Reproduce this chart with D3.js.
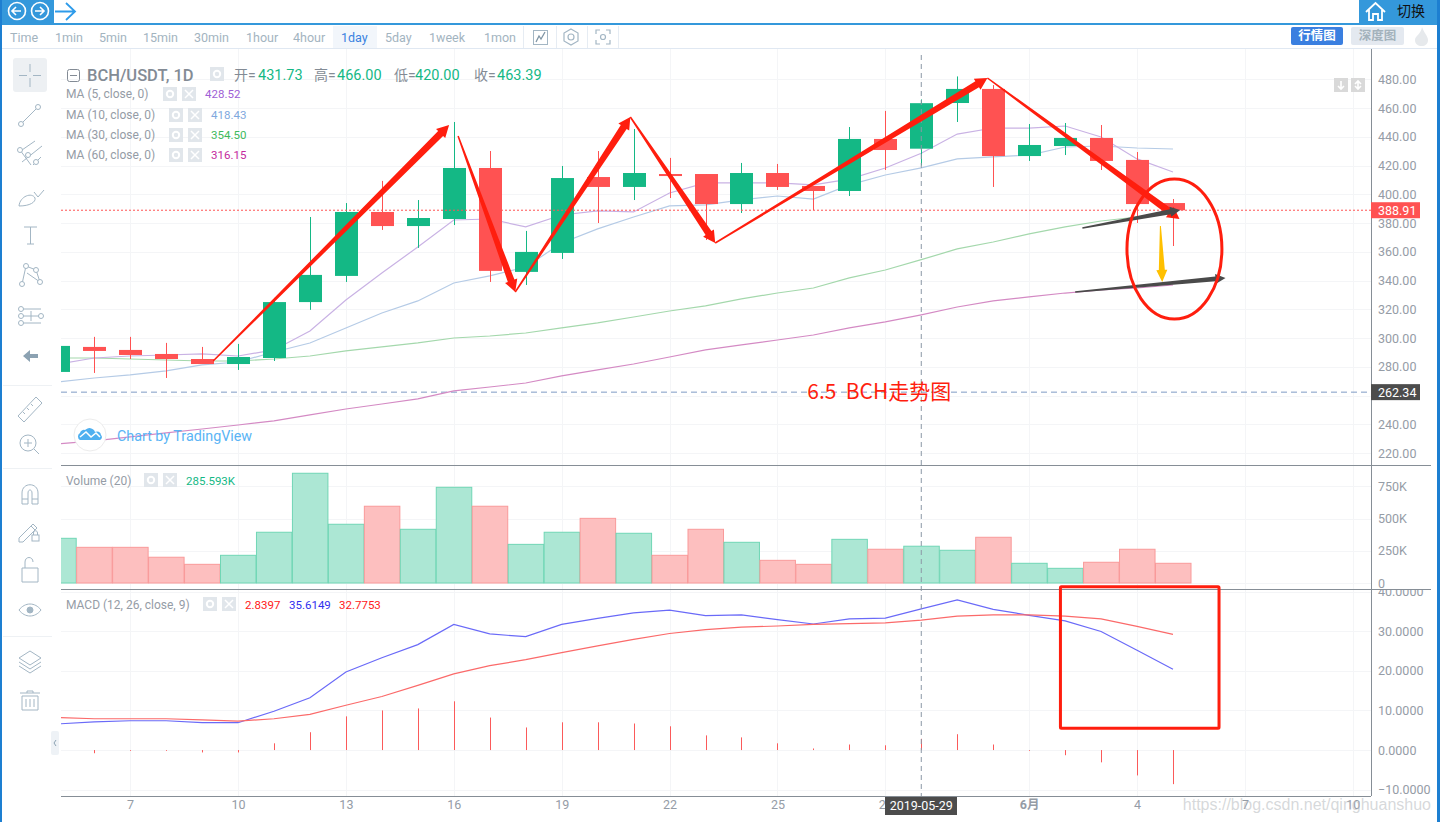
<!DOCTYPE html>
<html>
<head>
<meta charset="utf-8">
<title>BCH/USDT 1D</title>
<script src="https://cdnjs.cloudflare.com/ajax/libs/d3/7.8.5/d3.min.js"></script>
<style>
  html, body { margin: 0; padding: 0; background: #fff; overflow: hidden; }
  svg { display: block; font-family: Roboto, "Noto Sans CJK SC", sans-serif; }
</style>
</head>
<body>
<div id="chart"></div>
<script>
// daily data, 5 May - 5 Jun 2019
const days = ["05-05","05-06","05-07","05-08","05-09","05-10","05-11","05-12","05-13","05-14","05-15","05-16","05-17","05-18","05-19","05-20","05-21","05-22","05-23","05-24","05-25","05-26","05-27","05-28","05-29","05-30","05-31","06-01","06-02","06-03","06-04","06-05"];
const open  = [276.4,293.8,291.7,288.9,285.4,281.9,286.1,325.0,343.2,387.7,377.9,382.8,418.3,346.0,359.2,412.0,405.1,414.1,414.1,393.2,414.8,405.8,402.3,438.5,431.73,463.5,473.3,426.6,433.6,439.2,423.9,393.9];
const high  = [300.0,300.8,300.8,296.6,293.8,295.9,327.9,384.2,393.9,409.3,396.0,450.3,430.1,374.5,419.7,430.1,445.4,425.3,414.1,421.8,421.1,405.8,446.8,458.0,466.0,482.0,476.0,448.9,449.6,448.2,429.4,396.7];
const low   = [270.0,275.7,285.4,272.2,281.9,277.8,284.0,319.6,339.0,375.2,362.7,378.6,339.0,336.9,355.0,380.0,396.0,397.4,368.2,387.0,403.0,389.0,398.8,416.9,420.0,450.3,405.1,423.2,427.3,416.9,380.0,364.0];
const close = [294.5,291.0,288.2,285.4,281.9,286.8,325.0,343.9,387.7,377.9,383.5,418.3,346.7,359.9,411.3,405.1,414.8,412.7,393.2,414.8,405.1,402.3,438.5,430.8,463.39,473.3,426.6,434.3,439.2,423.2,393.2,388.91];

const ma5  = [281.9,286.1,287.5,288.2,288.9,287.5,291.7,304.9,326.5,345.3,363.3,382.1,382.8,377.3,385.6,388.4,387.7,400.9,407.9,407.9,407.9,406.5,410.6,418.3,428.52,441.9,446.1,446.1,447.5,439.9,424.6,415.5];
const ma10 = [269.4,272.2,274.3,277.1,281.3,283.3,290.3,296.5,307.0,317.4,325.8,338.3,343.2,349.4,366.1,375.9,384.2,391.9,392.6,396.1,398.8,396.7,406.5,413.4,418.43,424.6,426.0,427.3,432.9,433.6,432.2,431.5];
const ma30 = [286.1,286.1,285.4,284.7,284.0,284.0,285.4,287.5,291.0,293.8,296.6,300.0,301.4,303.5,307.0,310.5,314.6,318.8,322.3,327.2,331.3,334.8,341.8,347.3,354.5,362.0,366.8,372.4,377.3,381.4,384.2,387.7];
const ma60 = [226.3,228.4,231.2,234.0,236.7,239.5,242.3,246.5,250.6,254.1,257.6,263.2,265.9,268.7,273.6,277.8,281.9,286.8,291.7,295.2,298.6,302.1,307.0,311.2,316.15,321.6,325.8,328.6,331.3,333.4,334.8,336.9];

const volume = [347,277,277,200,145,215,394,852,456,596,417,743,596,300,394,502,386,215,417,316,176,145,339,262,285.593,254,355,153,114,161,262,153];

const macd   = [6.6,7.1,7.4,7.4,6.9,6.9,9.8,13.2,19.7,23.3,26.6,31.7,29.3,28.6,31.7,33.2,34.6,35.3,33.9,34.1,32.9,31.8,33.1,33.3,35.6149,37.9,35.5,34.0,32.6,29.9,25.2,20.4];
const signal = [8.2,7.9,7.9,7.9,7.6,7.3,7.9,9.0,11.3,13.5,16.3,19.2,21.3,22.8,24.6,26.3,27.9,29.4,30.4,31.0,31.3,31.7,31.9,32.1,32.7753,33.8,34.1,34.1,33.8,33.1,31.2,29.2];
const hist   = [0,-0.8,-0.2,-0.2,-0.6,-0.6,1.7,4.5,8.5,10,10.5,12.3,8.2,5.7,7,7,6.7,6,3.7,3.2,1.7,0.4,1.4,1.2,2.8397,4,1.4,-0.2,-1.3,-3.1,-6.4,-8.6];

const priceTicks = [480,460,440,420,400,380,360,340,320,300,280,260,240,220];
const volTicks = [750,500,250,0];
const macdTicks = [40,30,20,10,0,-10];
const timeTickIdx = [2,5,8,11,14,17,20,23,27,30,33,36];
const timeTickLabels = ["7","10","13","16","19","22","25","28","6月","4","7","10"];

const lastPrice = 388.91;
const basePrice = 262.34;
const crossIdx = 24;

const tabs = ["Time","1min","5min","15min","30min","1hour","4hour","1day","5day","1week","1mon"];
const tabX = [10,55,99,143,194,246,293,341,385,429,484];

// hand drawn annotations: [day index, price]
const redArrows = [
  [[4.31,284.0],[10.87,448.2]],
  [[11.12,440.6],[12.71,332.0]],
  [[12.71,332.0],[15.91,453.8]],
  [[15.91,453.8],[18.27,366.1]],
  [[18.27,366.1],[25.84,480.9]],
  [[25.84,480.9],[31.18,382.8]]
];
const greyArrows = [
  [[28.48,376.6],[31.2,389.1]],
  [[28.28,332.0],[32.46,341.8]]
];
const yellowArrow = [[30.65,378],[30.7,339]];

const GREEN = "#14b885", RED = "#ff5252", LABEL = "#959ca6", ICON = "#a3b6c4", BLUE = "#3498db", ANNO = "#ff1e0e";

const W = 1440, H = 822;
const left = 61, axisX = 1371, paneRight = 1431;

const svg = d3.select("#chart").append("svg").attr("width", W).attr("height", H);
const defs = svg.append("defs");
function clip(id, x, y, w, h) {
  defs.append("clipPath").attr("id", id).append("rect").attr("x", x).attr("y", y).attr("width", w).attr("height", h);
}
clip("clipMain", left, 49, axisX - left, 416);
clip("clipVol", left, 466, axisX - left, 123);
clip("clipMacd", left, 590, axisX - left, 206);
clip("clipMacdAxis", axisX, 590, 70, 206);

const x = d3.scaleLinear().domain([0, 31]).range([58.2, 1173]);
const yPrice = d3.scaleLinear().domain([220, 480]).range([453, 79.3]);
const yVol = d3.scaleLinear().domain([0, 750]).range([583, 486.4]);
const yMacd = d3.scaleLinear().domain([-10, 40]).range([789.7, 591.5]);

const idx = d3.range(days.length);
const isUp = i => close[i] >= open[i];

// ---- grid
const grid = svg.append("g").attr("stroke", "#f4f5f7").attr("stroke-width", 1).attr("shape-rendering", "crispEdges");
grid.selectAll(".gx").data(timeTickIdx).enter().append("line")
  .attr("x1", d => Math.round(x(d)) + .5).attr("x2", d => Math.round(x(d)) + .5).attr("y1", 49).attr("y2", 796);
function hGrid(ticks, scale) {
  grid.append("g").selectAll("line").data(ticks).enter().append("line")
    .attr("x1", left).attr("x2", axisX)
    .attr("y1", d => Math.round(scale(d)) + .5).attr("y2", d => Math.round(scale(d)) + .5);
}
hGrid(priceTicks, yPrice);
hGrid(volTicks, yVol);
hGrid(macdTicks, yMacd);

// ---- main pane
const main = svg.append("g").attr("clip-path", "url(#clipMain)");

main.append("line").attr("x1", left).attr("x2", axisX).attr("y1", yPrice(basePrice)).attr("y2", yPrice(basePrice))
  .attr("stroke", "#7f9ac4").attr("stroke-dasharray", "6 4");

const lineOf = (scale) => d3.line().x((d, i) => x(i)).y(d => scale(d));
[[ma60, "#d48ac4"], [ma30, "#a4d8ac"], [ma10, "#b5cbe6"], [ma5, "#c9b2e4"]].forEach(([vals, col]) => {
  main.append("path").attr("d", lineOf(yPrice)(vals)).attr("fill", "none").attr("stroke", col).attr("stroke-width", 1.2);
});

main.selectAll(".wick").data(idx).enter().append("line")
  .attr("x1", i => Math.round(x(i)) + .5).attr("x2", i => Math.round(x(i)) + .5)
  .attr("y1", i => yPrice(high[i])).attr("y2", i => yPrice(low[i]))
  .attr("stroke", i => isUp(i) ? GREEN : RED);
main.selectAll(".body").data(idx).enter().append("rect")
  .attr("x", i => Math.round(x(i)) - 11).attr("width", 23)
  .attr("y", i => yPrice(Math.max(open[i], close[i])))
  .attr("height", i => Math.max(2, Math.abs(yPrice(open[i]) - yPrice(close[i]))))
  .attr("fill", i => isUp(i) ? GREEN : RED);

main.append("line").attr("x1", left).attr("x2", axisX).attr("y1", yPrice(lastPrice)).attr("y2", yPrice(lastPrice))
  .attr("stroke", RED).attr("stroke-dasharray", "2 2");

// ---- volume pane
const vol = svg.append("g").attr("clip-path", "url(#clipVol)");
vol.selectAll("rect").data(idx).enter().append("rect")
  .attr("x", i => x(i) - 17.5).attr("width", 35.5)
  .attr("y", i => yVol(volume[i])).attr("height", i => yVol(0) - yVol(volume[i]))
  .attr("fill", i => isUp(i) ? "#ace7d4" : "#fdbfbf")
  .attr("stroke", i => isUp(i) ? "#70d6b5" : "#f99a9a");

// ---- macd pane
const mac = svg.append("g").attr("clip-path", "url(#clipMacd)");
mac.selectAll("line").data(idx.filter(i => hist[i] !== 0)).enter().append("line")
  .attr("x1", i => Math.round(x(i)) + .5).attr("x2", i => Math.round(x(i)) + .5)
  .attr("y1", yMacd(0)).attr("y2", i => yMacd(hist[i]))
  .attr("stroke", "#fb5a5a");
mac.append("path").attr("d", lineOf(yMacd)(macd)).attr("fill", "none").attr("stroke", "#6a6af8").attr("stroke-width", 1.2);
mac.append("path").attr("d", lineOf(yMacd)(signal)).attr("fill", "none").attr("stroke", "#fb6a6a").attr("stroke-width", 1.2);

// ---- crosshair
svg.append("line").attr("x1", x(crossIdx)).attr("x2", x(crossIdx)).attr("y1", 55).attr("y2", 796)
  .attr("stroke", "#8a98a6").attr("stroke-dasharray", "5 4");

// ---- axes
function styleAxis(g) {
  g.select(".domain").remove();
  g.selectAll(".tick line").remove();
  g.selectAll("text").attr("fill", LABEL).attr("font-size", 12.5).attr("font-family", "Roboto, 'Noto Sans CJK SC', sans-serif");
}
// 260.00 sits under the 262.34 badge, so only its gridline shows
svg.append("g").attr("transform", `translate(${axisX},0)`)
  .call(d3.axisRight(yPrice).tickValues(priceTicks.filter(d => d !== 260)).tickFormat(d3.format(".2f")).tickPadding(7).tickSize(0)).call(styleAxis);
svg.append("g").attr("transform", `translate(${axisX},0)`)
  .call(d3.axisRight(yVol).tickValues(volTicks).tickFormat(d => d === 0 ? "0" : d + "K").tickPadding(7).tickSize(0)).call(styleAxis);
svg.append("g").attr("clip-path", "url(#clipMacdAxis)").append("g").attr("transform", `translate(${axisX},0)`)
  .call(d3.axisRight(yMacd).tickValues(macdTicks).tickFormat(d3.format(".4f")).tickPadding(7).tickSize(0)).call(styleAxis);
const xAxis = svg.append("g").attr("transform", "translate(0,796)")
  .call(d3.axisBottom(x).tickValues(timeTickIdx).tickFormat((d, i) => timeTickLabels[i]).tickPadding(4).tickSize(0)).call(styleAxis);
xAxis.selectAll("text").filter(d => d === 27).attr("font-weight", 700);

// pane borders
const borders = svg.append("g").attr("stroke", "#868e96").attr("stroke-width", 1).attr("shape-rendering", "crispEdges");
[465.5, 589.5].forEach(y => borders.append("line").attr("x1", left).attr("x2", paneRight).attr("y1", y).attr("y2", y));
borders.append("line").attr("x1", left).attr("x2", axisX).attr("y1", 796.5).attr("y2", 796.5);
borders.append("line").attr("x1", axisX + .5).attr("x2", axisX + .5).attr("y1", 49).attr("y2", 796);

function axisBadge(value, fill) {
  const y = yPrice(value);
  svg.append("rect").attr("x", axisX).attr("y", y - 8).attr("width", 49).attr("height", 16).attr("fill", fill);
  svg.append("text").attr("x", axisX + 7).attr("y", y).attr("dy", "0.35em").attr("fill", "#fff")
    .attr("font-size", 12.5).text(d3.format(".2f")(value));
}
axisBadge(lastPrice, RED);
axisBadge(basePrice, "#4c4c4c");

svg.append("rect").attr("x", 885).attr("y", 797).attr("width", 72).attr("height", 18).attr("fill", "#4c4c4c");
svg.append("text").attr("x", x(crossIdx)).attr("y", 806).attr("dy", "0.35em").attr("text-anchor", "middle")
  .attr("fill", "#fff").attr("font-size", 12.5).text("2019-05-29");

// ---- legends
function tinyBox(cx, cy, kind) {
  const g = svg.append("g").attr("transform", `translate(${cx},${cy})`);
  g.append("rect").attr("x", -7).attr("y", -7).attr("width", 14).attr("height", 14).attr("fill", "#e1e6eb");
  if (kind === "x") {
    g.append("path").attr("d", "M-4,-4L4,4M4,-4L-4,4").attr("stroke", "#fff").attr("stroke-width", 1.5);
  } else {
    g.append("circle").attr("r", 3.2).attr("fill", "none").attr("stroke", "#fff").attr("stroke-width", 2);
  }
}
function label(px, py, txt, col, size, weight) {
  return svg.append("text").attr("x", px).attr("y", py).attr("dy", "0.35em")
    .attr("fill", col).attr("font-size", size || 11.5).attr("font-weight", weight || 400).text(txt);
}

svg.append("rect").attr("x", 67.5).attr("y", 69.5).attr("width", 12).attr("height", 12).attr("rx", 2).attr("fill", "none").attr("stroke", "#838b95");
svg.append("line").attr("x1", 70).attr("x2", 77).attr("y1", 75.5).attr("y2", 75.5).attr("stroke", "#838b95");
label(87, 75, "BCH/USDT, 1D", "#838b95", 16.5, 500);
tinyBox(217, 74, "gear");
[["开=",234,"431.73",258],["高=",314,"466.00",337],["低=",394,"420.00",415],["收=",474,"463.39",497]].forEach(d => {
  label(d[1], 75, d[0], "#838b95", 14);
  label(d[3], 75, d[2], "#14b885", 14.5);
});

const maRows = [
  ["MA (5, close, 0)", 163, 205, "428.52", "#a05fd6", 94],
  ["MA (10, close, 0)", 169, 211, "418.43", "#7fa9de", 115],
  ["MA (30, close, 0)", 169, 211, "354.50", "#3fba5e", 135],
  ["MA (60, close, 0)", 169, 211, "316.15", "#c42a9e", 155]
];
maRows.forEach(r => {
  label(66, r[5], r[0], "#959ca6", 12);
  tinyBox(r[1] + 7, r[5], "gear");
  tinyBox(r[1] + 26, r[5], "x");
  label(r[2], r[5], r[3], r[4]);
});

label(66, 481, "Volume (20)", "#959ca6", 12);
tinyBox(151, 480, "gear");
tinyBox(170, 480, "x");
label(186, 481, "285.593K", "#14b885");

label(66, 605, "MACD (12, 26, close, 9)", "#959ca6", 12);
tinyBox(210, 604, "gear");
tinyBox(229, 604, "x");
label(245, 605, "2.8397", "#ff2020");
label(289, 605, "35.6149", "#3030ee");
label(339, 605, "32.7753", "#ff2020");

// scale buttons
[[1334, "M7,3V11M4,8L7,11L10,8"], [1351, "M7,3V11M4,6L7,3L10,6M4,8L7,11L10,8"]].forEach(d => {
  const g = svg.append("g").attr("transform", `translate(${d[0]},78)`);
  g.append("rect").attr("width", 14).attr("height", 14).attr("fill", "#d9d9d9");
  g.append("path").attr("d", d[1]).attr("fill", "none").attr("stroke", "#fff").attr("stroke-width", 1.6);
});

// tradingview badge
svg.append("circle").attr("cx", 90).attr("cy", 435).attr("r", 16).attr("fill", "#fff").attr("stroke", "#ececec");
svg.append("path").attr("d", "M80,440a4,4 0 0 1 0,-7a4,4 0 0 1 5,-3a6,6 0 0 1 10,2a4,4 0 0 1 6,3a3,3 0 0 1 -1,5Z").attr("fill", "#4fb0f0");
svg.append("path").attr("d", "M80,437L86,432L91,437L96,433L100,437").attr("fill", "none").attr("stroke", "#fff").attr("stroke-width", 1.5);
label(117, 436, "Chart by TradingView", "#5ab4f5", 14.3);

// ---- annotations
function wedge(p0, p1, w0, w1, headLen, headW) {
  const a = [x(p0[0]), yPrice(p0[1])], b = [x(p1[0]), yPrice(p1[1])];
  const len = Math.hypot(b[0] - a[0], b[1] - a[1]);
  const u = [(b[0] - a[0]) / len, (b[1] - a[1]) / len], n = [-u[1], u[0]];
  const base = [b[0] - u[0] * headLen, b[1] - u[1] * headLen];
  const off = (p, w) => [p[0] + n[0] * w / 2, p[1] + n[1] * w / 2];
  return d3.line()([off(a, w0), off(base, w1), off(base, headW), b, off(base, -headW), off(base, -w1), off(a, -w0)]) + "Z";
}
const anno = svg.append("g");
anno.selectAll(".red").data(redArrows).enter().append("path")
  .attr("d", d => wedge(d[0], d[1], 1.5, 7, 12, 13)).attr("fill", ANNO);
anno.selectAll(".grey").data(greyArrows).enter().append("path")
  .attr("d", d => wedge(d[0], d[1], 1.5, 5, 10, 10)).attr("fill", "#4a4a4a");
anno.append("path").attr("d", wedge(yellowArrow[0], yellowArrow[1], 1, 6, 12, 11)).attr("fill", "#ffc000");

anno.append("ellipse").attr("cx", x(31.04)).attr("cy", yPrice(361.9))
  .attr("rx", x(1.32) - x(0)).attr("ry", yPrice(313.2) - yPrice(361.9))
  .attr("fill", "none").attr("stroke", ANNO).attr("stroke-width", 3);
anno.append("rect").attr("x", x(27.87)).attr("y", yMacd(41.2))
  .attr("width", x(32.28) - x(27.87)).attr("height", yMacd(5.5) - yMacd(41.2))
  .attr("rx", 1).attr("fill", "none").attr("stroke", ANNO).attr("stroke-width", 3);
anno.append("text").attr("x", x(20.83)).attr("y", yPrice(262.5)).attr("dy", "0.36em")
  .attr("fill", ANNO).attr("font-size", 21).attr("font-family", "'Noto Sans CJK SC', sans-serif")
  .style("white-space", "pre").text("6.5  BCH走势图");

// watermark
svg.append("text").attr("x", 1431).attr("y", 810).attr("text-anchor", "end")
  .attr("fill", "#b4b8bc").attr("fill-opacity", .55).attr("font-size", 16)
  .attr("font-family", "'Liberation Sans', sans-serif").text("https://blog.csdn.net/qinghuanshuo");

// ---- top bar
svg.append("rect").attr("width", 54).attr("height", 24).attr("fill", BLUE);
svg.append("rect").attr("x", 1359).attr("width", 81).attr("height", 24).attr("fill", BLUE);
svg.append("rect").attr("y", 23).attr("width", W).attr("height", 2).attr("fill", BLUE);
svg.append("rect").attr("width", 2).attr("height", H).attr("fill", "#1d7fd1");
svg.append("rect").attr("x", 1437).attr("width", 3).attr("height", H).attr("fill", "#1d7fd1");
[[17, "M21,11H12M16,7L12,11L16,15"], [40, "M35,11H44M40,7L44,11L40,15"]].forEach(d => {
  svg.append("circle").attr("cx", d[0]).attr("cy", 11).attr("r", 8.5).attr("fill", "none").attr("stroke", "#fff").attr("stroke-width", 1.6);
  svg.append("path").attr("d", d[1]).attr("fill", "none").attr("stroke", "#fff").attr("stroke-width", 1.6);
});
svg.append("path").attr("d", "M55,11.5H75M66,3L75,11.5L66,20").attr("fill", "none").attr("stroke", "#2e9bea").attr("stroke-width", 1.8);
svg.append("path").attr("d", "M1366,12L1375.5,3L1385,12M1369,10V20H1373V14H1378V20H1382V10")
  .attr("fill", "none").attr("stroke", "#fff").attr("stroke-width", 1.8);
svg.append("text").attr("x", 1397).attr("y", 11).attr("dy", "0.35em").attr("fill", "#111").attr("font-size", 14)
  .attr("font-family", "'Noto Sans CJK SC', sans-serif").text("切换");

// ---- timeframe toolbar
svg.append("rect").attr("x", 333).attr("y", 26).attr("width", 44).attr("height", 22).attr("fill", "#f2f6fb");
svg.append("line").attr("x1", 2).attr("x2", 1437).attr("y1", 48.5).attr("y2", 48.5).attr("stroke", "#e0e8f2");
svg.selectAll(".tab").data(tabs).enter().append("text")
  .attr("x", (d, i) => tabX[i]).attr("y", 37.5).attr("dy", "0.35em").attr("font-size", 12.5)
  .attr("fill", d => d === "1day" ? "#3b82e0" : "#a3b4bf").text(d => d);
[523.5, 556.5, 587.5, 618.5].forEach(px => svg.append("line").attr("x1", px).attr("x2", px).attr("y1", 26).attr("y2", 48).attr("stroke", "#e6ecf3"));
svg.append("rect").attr("x", 533.5).attr("y", 30.5).attr("width", 14).attr("height", 14).attr("fill", "none").attr("stroke", ICON);
svg.append("path").attr("d", "M536,42L539,36L541,39L545,32").attr("fill", "none").attr("stroke", "#7f95a5").attr("stroke-width", 1.3);
svg.append("path").attr("d", "M571,29L578,33V41L571,45L564,41V33Z").attr("fill", "none").attr("stroke", ICON).attr("stroke-width", 1.2);
svg.append("circle").attr("cx", 571).attr("cy", 37).attr("r", 3).attr("fill", "none").attr("stroke", ICON).attr("stroke-width", 1.2);
svg.append("path").attr("d", "M596,34V30H600M606,30H610V34M610,40V44H606M600,44H596V40").attr("fill", "none").attr("stroke", ICON).attr("stroke-width", 1.2);
svg.append("circle").attr("cx", 603).attr("cy", 37).attr("r", 2.5).attr("fill", "none").attr("stroke", ICON).attr("stroke-width", 1.2);

svg.append("rect").attr("x", 1291).attr("y", 27).attr("width", 52).attr("height", 18).attr("rx", 2).attr("fill", "#3a7fe0");
svg.append("rect").attr("x", 1351).attr("y", 27).attr("width", 53).attr("height", 18).attr("rx", 2).attr("fill", "#e4e9f0");
[["行情图", 1317, "#fff"], ["深度图", 1377.5, "#a3b2bc"]].forEach(d => {
  svg.append("text").attr("x", d[1]).attr("y", 36).attr("dy", "0.35em").attr("text-anchor", "middle")
    .attr("fill", d[2]).attr("font-size", 12.5).attr("font-weight", 700)
    .attr("font-family", "'Noto Sans CJK SC', sans-serif").text(d[0]);
});
svg.append("path").attr("d", "M1422,27C1424,33 1428,36 1428,40C1428,44 1425,46 1422,46C1418,46 1415,44 1415,40C1415,36 1421,34 1422,27Z").attr("fill", "#e6e9ec");

// ---- left drawing toolbar
const tools = svg.append("g").attr("fill", "none").attr("stroke", ICON).attr("stroke-width", 1);
svg.insert("rect", "g").attr("x", 13).attr("y", 58).attr("width", 34).attr("height", 34).attr("rx", 3).attr("fill", "#edf0f3");
tools.append("path").attr("d", "M19,75.5H27M33,75.5H41M30,64V72M30,78V87");
const toolPaths = [
  "M21,124L38,107",                                  // trend line
  "M22,150L35,141M22,162L42,146M33,165L41,157M20,150L31,165",
  "M19,206C20,196 32,192 35,198C36,202 30,206 19,206ZM34,192L38,197L44,190",
  "M24,227H37M30.5,227V244M27,244H34",
  "M22,284L26,266L36,270L40,282L27,273",
  "M21,309H41M21,316H41M21,323H41M31,311V321",
  "M18,416L36,397L42,403L24,422ZM23,412L25,414M27,408L29,410M31,404L33,406",
  "M22,504V493C22,482 38,482 38,493V504H32V493C32,489 28,489 28,493V504ZM22,499H28M32,499H38",
  "M19,538L33,524L37,528L23,542L19,542ZM31,526L35,530",
  "M22,568H38V582H22ZM25,568V562C25,556 33,556 33,562",
  "M19,610C25,602 35,602 41,610C35,618 25,618 19,610Z",
  "M30,651L41,658L30,665L19,658ZM19,662L30,669L41,662M19,666L30,673L41,666",
  "M22,696H38V710H22ZM20,693H40M26,699V707M30,699V707M34,699V707M27,693V691H33V693"
];
tools.selectAll(".tool").data(toolPaths).enter().append("path").attr("d", d => d);
[[21,124],[38,107],[20,150],[28,155],[36,162],[22,284],[26,266],[36,270],[40,282],[21,309],[21,316],[21,323],[41,316]].forEach(d => {
  tools.append("circle").attr("cx", d[0]).attr("cy", d[1]).attr("r", 2.5).attr("fill", "#fff");
});
tools.append("circle").attr("cx", 28).attr("cy", 443).attr("r", 8);
tools.append("path").attr("d", "M34,449L39,454M24,443H32M28,439V447");
tools.append("circle").attr("cx", 30).attr("cy", 610).attr("r", 3).attr("fill", ICON);
tools.append("rect").attr("x", 32).attr("y", 535).attr("width", 7).attr("height", 6);
tools.append("path").attr("d", "M33.5,535V533C33.5,530 37.5,530 37.5,533V535");
svg.append("path").attr("d", "M23,356L30,350V354H38V358H30V362Z").attr("fill", "#8ca2b2");
[385.5, 468.5, 636.5].forEach(y => svg.append("line").attr("x1", 3).attr("x2", 52).attr("y1", y).attr("y2", y).attr("stroke", "#eef1f4"));
svg.append("rect").attr("x", 51).attr("y", 731).attr("width", 8).attr("height", 24).attr("rx", 2).attr("fill", "#eef2f6");
svg.append("path").attr("d", "M56,740L54,743L56,746").attr("fill", "none").attr("stroke", "#8ca2b2");
</script>
</body>
</html>
